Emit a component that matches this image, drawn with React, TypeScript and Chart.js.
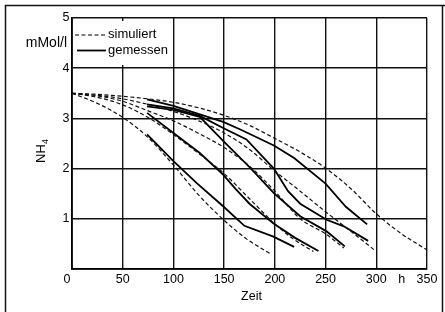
import React, { useEffect, useRef } from "react";
import { Chart, registerables } from "chart.js";
Chart.register(...registerables);

// Axis ticks
const xTickValues = [0, 50, 100, 150, 200, 250, 300, 350];
const yTickValues = [1, 2, 3, 4, 5];
const xAxisTitle = "Zeit";
const xUnit = "h";
const yAxisTitle = "NH";
const yUnit = "mMol/l";
const legendSim = "simuliert";
const legendMeas = "gemessen";

// Simulated (dashed) curves: [Zeit h, NH4 mMol/l]
const simA = [[0, 3.5], [25, 3.3], [50, 3.02], [75, 2.62], [100, 2.07], [125, 1.47], [150, 0.97], [172, 0.6], [195, 0.31]];
const simB = [[0, 3.5], [25, 3.42], [50, 3.27], [75, 3.02], [100, 2.68], [125, 2.3], [150, 1.9], [175, 1.4], [200, 0.9], [218, 0.6], [238, 0.35]];
const simC = [[0, 3.5], [25, 3.45], [50, 3.34], [75, 3.15], [100, 2.95], [125, 2.7], [150, 2.42], [175, 2.05], [200, 1.55], [225, 1.0], [250, 0.7], [268, 0.42]];
const simD = [[0, 3.5], [25, 3.46], [50, 3.39], [75, 3.28], [100, 3.14], [125, 2.95], [150, 2.71], [175, 2.38], [200, 1.95], [225, 1.55], [250, 1.14], [275, 0.75], [298, 0.38]];
const simE = [[0, 3.5], [25, 3.48], [50, 3.44], [75, 3.39], [100, 3.32], [125, 3.21], [150, 3.06], [175, 2.86], [200, 2.6], [225, 2.33], [250, 2.01], [275, 1.6], [300, 1.1], [325, 0.7], [350, 0.38]];

// Measured (solid) curves
const measA = [[74, 2.68], [100, 2.15], [123, 1.71], [149, 1.25], [170, 0.86], [198, 0.65], [219, 0.44]];
const measB = [[74, 3.11], [100, 2.71], [126, 2.31], [149, 1.88], [161, 1.6], [175, 1.3], [199, 0.9], [220, 0.62], [243, 0.36]];
const measC = [[74, 3.24], [100, 3.17], [126, 3.03], [149, 2.55], [176, 2.01], [199, 1.51], [225, 1.05], [251, 0.75], [269, 0.45]];
const measD = [[74, 3.28], [100, 3.2], [126, 3.05], [150, 2.8], [172, 2.58], [199, 2.0], [213, 1.55], [225, 1.3], [251, 0.98], [268, 0.85], [292, 0.56]];
const measE = [[74, 3.38], [100, 3.25], [123, 3.1], [149, 2.93], [166, 2.78], [199, 2.46], [219, 2.21], [250, 1.7], [270, 1.24], [291, 0.89]];

const simSeries = [simA, simB, simC, simD, simE];
const measSeries = [measA, measB, measC, measD, measE];

const FONT = '"Liberation Sans", Arial, sans-serif';

const toPts = (arr: number[][]) => arr.map(([x, y]) => ({ x, y }));

const decorPlugin = {
  id: "decor",
  afterDraw(chart: any) {
    const { ctx, chartArea, scales } = chart;
    const xs = scales.x;
    const ys = scales.y;
    ctx.save();
    ctx.fillStyle = "#000";
    ctx.font = `12.5px ${FONT}`;

    // y tick labels
    ctx.textAlign = "right";
    ctx.textBaseline = "middle";
    yTickValues.forEach((v) => {
      ctx.fillText(String(v), chartArea.left - 2.5, ys.getPixelForValue(v));
    });

    // x tick labels
    ctx.textAlign = "center";
    const ly = chartArea.bottom + 10.5;
    xTickValues.forEach((v) => {
      let px = xs.getPixelForValue(v);
      if (v === 0) px -= 5;
      ctx.fillText(String(v), px, ly);
    });
    ctx.fillText(xUnit, xs.getPixelForValue(325), ly);

    // x title
    ctx.fillText(xAxisTitle, (chartArea.left + chartArea.right) / 2 + 2, chartArea.bottom + 28);

    // y title NH4 rotated
    ctx.save();
    ctx.translate(40, 151);
    ctx.rotate(-Math.PI / 2);
    ctx.font = `13px ${FONT}`;
    const wNH = ctx.measureText(yAxisTitle).width;
    ctx.font = `9px ${FONT}`;
    const w4 = ctx.measureText("4").width;
    const total = wNH + w4;
    ctx.textAlign = "left";
    ctx.textBaseline = "alphabetic";
    ctx.font = `13px ${FONT}`;
    ctx.fillText(yAxisTitle, -total / 2, 5);
    ctx.font = `9px ${FONT}`;
    ctx.fillText("4", -total / 2 + wNH, 8);
    ctx.restore();

    // unit
    ctx.font = `14px ${FONT}`;
    ctx.textAlign = "right";
    ctx.textBaseline = "middle";
    ctx.fillText(yUnit, chartArea.left - 5, 43);

    // legend box (covers grid)
    ctx.fillStyle = "#fff";
    ctx.fillRect(chartArea.left + 1.5, chartArea.top + 3, 96, 44);
    ctx.fillStyle = "#000";
    ctx.strokeStyle = "#000";
    ctx.lineWidth = 1.2;
    ctx.setLineDash([4, 2.5]);
    ctx.beginPath();
    ctx.moveTo(75, 35);
    ctx.lineTo(107, 35);
    ctx.stroke();
    ctx.setLineDash([]);
    ctx.lineWidth = 1.8;
    ctx.beginPath();
    ctx.moveTo(77, 50.5);
    ctx.lineTo(106, 50.5);
    ctx.stroke();
    ctx.textAlign = "left";
    ctx.textBaseline = "middle";
    ctx.font = `13px ${FONT}`;
    ctx.fillText(legendSim, 108, 34);
    ctx.fillText(legendMeas, 108, 50);

    // outer frame
    ctx.strokeStyle = "#111";
    ctx.lineWidth = 1.5;
    ctx.beginPath();
    ctx.moveTo(5.5, 312);
    ctx.lineTo(5.5, 5.5);
    ctx.lineTo(445, 5.5);
    ctx.moveTo(442.5, 5.5);
    ctx.lineTo(442.5, 312);
    ctx.stroke();
    ctx.restore();
  },
};

export default function App() {
  const ref = useRef<HTMLCanvasElement>(null);
  useEffect(() => {
    document.body.style.margin = "0";
    const canvas = ref.current!;
    const datasets: any[] = [];
    simSeries.forEach((s) =>
      datasets.push({
        data: toPts(s),
        borderColor: "#111",
        borderWidth: 1.2,
        borderDash: [4, 2.5],
        pointRadius: 0,
        cubicInterpolationMode: "monotone",
        fill: false,
      })
    );
    measSeries.forEach((s) =>
      datasets.push({
        data: toPts(s),
        borderColor: "#000",
        borderWidth: 1.8,
        pointRadius: 0,
        tension: 0,
        fill: false,
      })
    );
    const chart = new Chart(canvas, {
      type: "line",
      data: { datasets },
      options: {
        animation: false,
        responsive: false,
        maintainAspectRatio: false,
        layout: { padding: { left: 72, right: 18, top: 18, bottom: 43 } },
        plugins: { legend: { display: false }, tooltip: { enabled: false } },
        scales: {
          x: {
            type: "linear",
            min: 0,
            max: 350,
            ticks: { display: false, stepSize: 50 },
            grid: { color: "#111", lineWidth: 1.4, drawTicks: false },
            border: { color: "#000", width: 1.8 },
          },
          y: {
            type: "linear",
            min: 0,
            max: 5,
            ticks: { display: false, stepSize: 1 },
            grid: { color: "#111", lineWidth: 1.4, drawTicks: false },
            border: { color: "#000", width: 1.8 },
          },
        },
      },
      plugins: [decorPlugin],
    });
    return () => chart.destroy();
  }, []);
  return (
    <div style={{ width: 445, height: 312 }}>
      <canvas ref={ref} width={445} height={312} style={{ display: "block" }} />
    </div>
  );
}
